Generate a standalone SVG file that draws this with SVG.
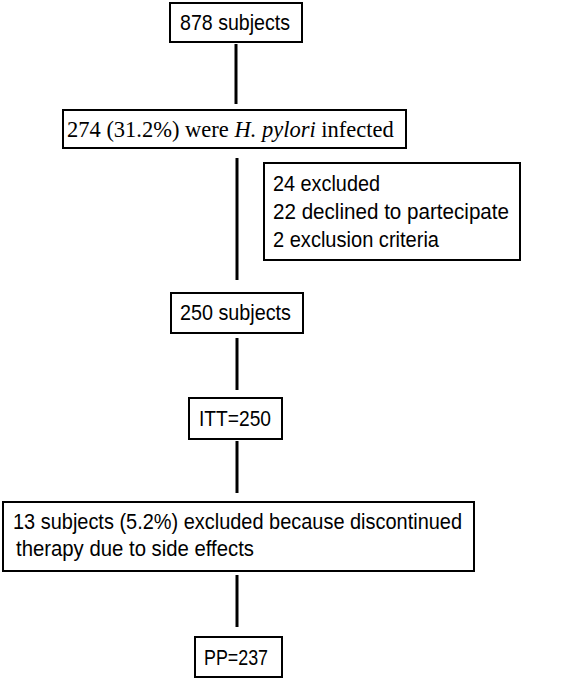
<svg xmlns="http://www.w3.org/2000/svg" width="564" height="680" viewBox="0 0 564 680">
<style>
.box{fill:#fff;stroke:#000;stroke-width:2}
.t{font-family:"Liberation Sans",Arial,sans-serif;font-size:22px;fill:#000}
.s{font-family:"Liberation Serif","Times New Roman",serif;font-size:22.5px;fill:#000}
.c{stroke:#000;stroke-width:3;fill:none}
</style>
<rect width="564" height="680" fill="#fff"/>
<g id="connectors">
<line class="c" x1="236" y1="44" x2="236" y2="104"/>
<line class="c" x1="237" y1="158" x2="237" y2="280"/>
<line class="c" x1="237" y1="338" x2="237" y2="390"/>
<line class="c" x1="237" y1="441" x2="237" y2="493"/>
<line class="c" x1="237" y1="575" x2="237" y2="627"/>
</g>
<g id="n1"><rect class="box" x="170" y="3" width="132" height="39"/><text class="t" x="180" y="30" textLength="110" lengthAdjust="spacingAndGlyphs">878 subjects</text></g>
<g id="n2"><rect class="box" x="63" y="110" width="343" height="38"/><text class="s" x="67" y="137">274 (31.2%) were <tspan font-style="italic">H. pylori</tspan> infected</text></g>
<g id="n3"><rect class="box" x="264" y="163" width="256" height="97"/>
<text class="t" x="273" y="191" textLength="107" lengthAdjust="spacingAndGlyphs">24 excluded</text>
<text class="t" x="273" y="219" textLength="236" lengthAdjust="spacingAndGlyphs">22 declined to partecipate</text>
<text class="t" x="273" y="247" textLength="166" lengthAdjust="spacingAndGlyphs">2 exclusion criteria</text></g>
<g id="n4"><rect class="box" x="171" y="293" width="132" height="40"/><text class="t" x="180" y="320" textLength="111" lengthAdjust="spacingAndGlyphs">250 subjects</text></g>
<g id="n5"><rect class="box" x="189" y="398" width="93" height="41"/><text class="t" x="199" y="426" textLength="72" lengthAdjust="spacingAndGlyphs">ITT=250</text></g>
<g id="n6"><rect class="box" x="3" y="502" width="471" height="69"/>
<text class="t" x="13" y="529" textLength="449" lengthAdjust="spacingAndGlyphs">13 subjects (5.2%) excluded because discontinued</text>
<text class="t" x="16" y="556" textLength="238" lengthAdjust="spacingAndGlyphs">therapy due to side effects</text></g>
<g id="n7"><rect class="box" x="195" y="637" width="87" height="40"/><text class="t" x="204" y="665" textLength="64" lengthAdjust="spacingAndGlyphs">PP=237</text></g>
</svg>
